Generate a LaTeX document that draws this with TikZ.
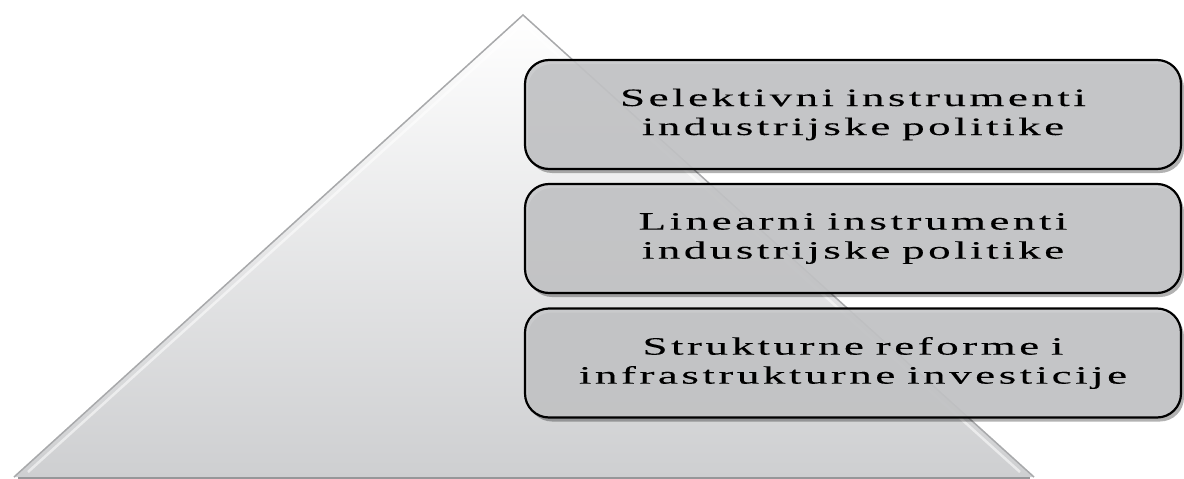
\documentclass[tikz,border=0pt]{standalone}
\usepackage{fontspec}
\newfontfamily\boxfont{Liberation Serif}[FakeStretch=1.8, LetterSpace=14, WordSpace=0.8, FakeBold=0.15]
\usetikzlibrary{shadows}
\definecolor{boxgray}{RGB}{199,200,202}
\definecolor{trilow}{RGB}{206,207,209}
\definecolor{triedge}{RGB}{168,169,171}
\definecolor{tribase}{RGB}{150,151,153}
\tikzset{
  levelbox/.style={draw=black, line width=2.2pt, rounded corners=24pt, fill=boxgray, fill opacity=0.9, text opacity=1,
    minimum width=656pt, minimum height=109pt, align=center, inner sep=0pt,
    font=\boxfont\fontsize{25}{29}\selectfont,
    drop shadow={shadow xshift=3pt, shadow yshift=-4pt, opacity=0.3, fill=black}},
  triedgeline/.style={draw=triedge, line width=1.5pt},
  bevelline/.style={draw=white, draw opacity=0.55, line width=2.5pt}
}
\begin{document}
\begin{tikzpicture}[x=1pt,y=-1pt]
\useasboundingbox (0,0) rectangle (1184,479);
% pyramid
\coordinate (apex) at (523,15);
\coordinate (bl) at (14,477);
\coordinate (br) at (1034,477);
\coordinate (iapex) at (523,24);
\coordinate (ibl) at (28,472);
\coordinate (ibr) at (1020,472);
\shade[top color=white, bottom color=trilow] (apex) -- (br) -- (bl) -- cycle;
\draw[bevelline] (ibl) -- (iapex) -- (ibr);
\draw[triedgeline] (bl) -- (apex) -- (br);
\draw[tribase, line width=4pt] ([xshift=4pt,yshift=-2pt]bl) -- ([xshift=-4pt,yshift=-2pt]br);
% levels
\node[levelbox] (b1) at (853,114.5) {Selektivni instrumenti\\industrijske politike};
\node[levelbox] (b2) at (853,238.5) {Linearni instrumenti\\industrijske politike};
\node[levelbox] (b3) at (853,363) {Strukturne reforme i\\infrastrukturne investicije};
\end{tikzpicture}
\end{document}
